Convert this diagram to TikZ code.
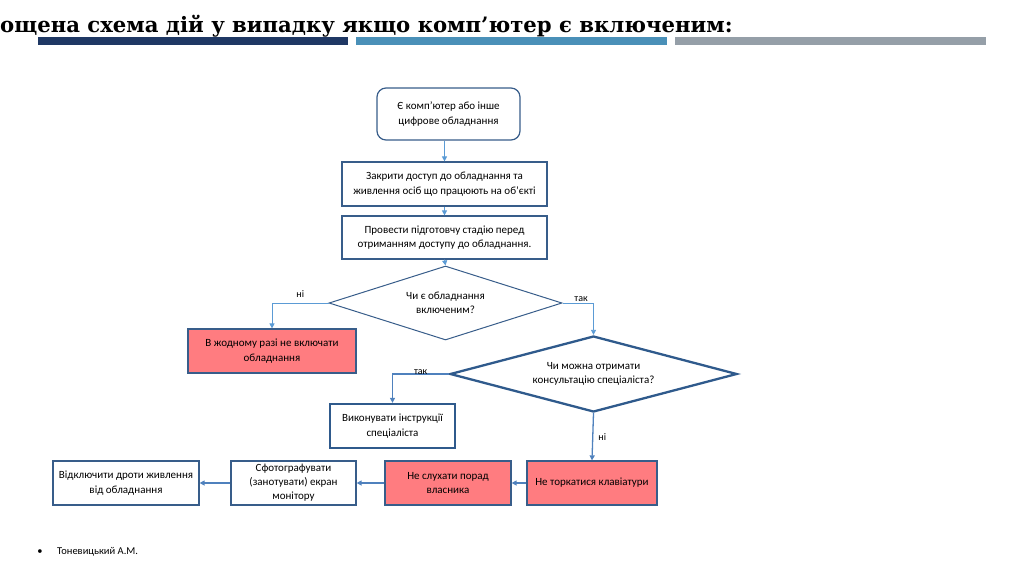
\documentclass[tikz,border=0pt]{standalone}
\usepackage{fontspec}
\setmainfont{Carlito}
\newfontfamily\titlefont{DejaVu Serif}
\usetikzlibrary{shapes.geometric,arrows.meta}
\definecolor{navy}{HTML}{1F3864}
\definecolor{midblue}{HTML}{4A90B8}
\definecolor{greybar}{HTML}{959FA8}
\definecolor{border}{HTML}{385D8A}
\definecolor{thickborder}{HTML}{2F5A8C}
\definecolor{lineblue}{HTML}{5B9BD5}
\definecolor{lineblue2}{HTML}{4F81BD}
\definecolor{redfill}{HTML}{FF7C80}
\tikzset{
  box/.style={draw=border, line width=1.2pt, fill=white, align=center, inner sep=1pt,
    font=\fontsize{11}{14.5}\selectfont, text=black},
  redbox/.style={box, fill=redfill},
  decision/.style={diamond, draw=border, line width=1pt, fill=white, align=center, inner sep=0pt,
    font=\fontsize{11}{14.5}\selectfont},
  arr/.style={draw=lineblue, line width=0.8pt, -{Triangle[width=5pt,length=5pt]}},
  arrb/.style={draw=lineblue2, line width=1.3pt, -{Triangle[width=5pt,length=5pt]}},
  lbl/.style={font=\fontsize{10}{12}\selectfont, text=black, inner sep=1pt},
}
\begin{document}
\begin{tikzpicture}[x=1pt,y=-1pt]
\useasboundingbox (0,0) rectangle (1024,576);
% title
\node[anchor=base west, inner sep=0pt, font=\titlefont\bfseries\fontsize{21.2}{25}\selectfont] (title) at (0,32) {ощена схема дій у випадку якщо комп’ютер є включеним:};
\fill[navy] (38,37) rectangle (348,45);
\fill[midblue] (356,37) rectangle (667,45);
\fill[greybar] (675,37) rectangle (986,45);
% nodes
\node[box, rounded corners=9pt, minimum width=143pt, minimum height=52pt] (n1) at (448.5,114) {Є комп’ютер або інше\\цифрове обладнання};
\node[box, minimum width=205pt, minimum height=44pt] (n2) at (444.5,184) {Закрити доступ до обладнання та\\живлення осіб що працюють на об’єкті};
\node[box, minimum width=205pt, minimum height=43pt] (n3) at (444.5,237.5) {Провести підготовчу стадію перед\\отриманням доступу до обладнання.};
\node[decision, minimum width=233pt, minimum height=74pt, aspect=3.15] (d1) at (445.5,303) {Чи є обладнання\\включеним?};
\node[redbox, minimum width=168pt, minimum height=44pt] (r1) at (272,351) {В жодному разі не включати\\обладнання};
\node[decision, draw=thickborder, line width=2.3pt, minimum width=287pt, minimum height=76pt, aspect=3.78] (d2) at (593.5,374) {Чи можна отримати\\консультацію спеціаліста?};
\node[box, draw=thickborder, line width=2.3pt, minimum width=125pt, minimum height=44pt] (n7) at (392.5,426) {Виконувати інструкції\\спеціаліста};
\node[redbox, minimum width=130pt, minimum height=44pt] (r8) at (592,483) {Не торкатися клавіатури};
\node[redbox, minimum width=126pt, minimum height=44pt] (r9) at (448,483) {Не слухати порад\\власника};
\node[box, minimum width=125pt, minimum height=44pt, font=\fontsize{11}{14}\selectfont] (n10) at (293.5,483) {Сфотографувати\\(занотувати) екран\\монітору};
\node[box, minimum width=146pt, minimum height=44pt] (n11) at (126,483) {Відключити дроти живлення\\від обладнання};
% connectors
\draw[arr] (n2.north |- n1.south) -- (n2.north);
\draw[arr] (n2.south) -- (n3.north);
\draw[arr] (n3.south) -- (d1.north);
\draw[arr] (d1.west) -| (r1.north) node[lbl, pos=0.25, above=4pt] {ні};
\draw[arr] (d1.east) -| (d2.north) node[lbl, pos=0.3, above=0pt] {так};
\draw[arrb] (d2.west) -| (n7.north) node[lbl, pos=0.25, above=-2pt] {так};
\draw[arrb] (d2.south) -- (r8.north) node[lbl, pos=0.5, right=4pt] {ні};
\draw[arrb] (r8.west) -- (r9.east);
\draw[arrb] (r9.west) -- (n10.east);
\draw[arrb] (n10.west) -- (n11.east);
% footer
\node[font=\fontsize{10.5}{12}\selectfont, inner sep=0pt] (bul) at (40,552) {•};
\node[anchor=west, font=\fontsize{10.5}{12}\selectfont, inner sep=0pt] (author) at (57,552) {Тоневицький А.М.};
\end{tikzpicture}
\end{document}
